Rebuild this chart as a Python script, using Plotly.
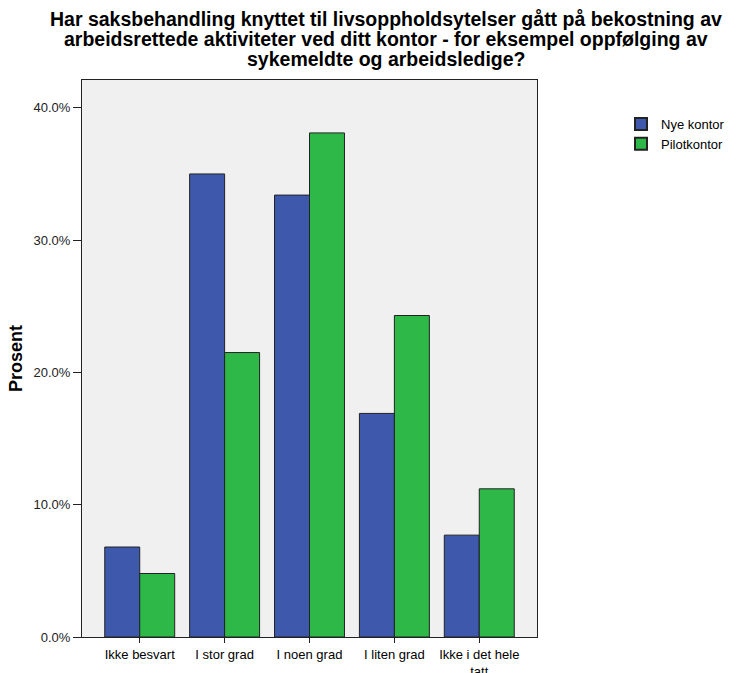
import plotly.graph_objects as go

categories = ["Ikke besvart", "I stor grad", "I noen grad", "I liten grad", "Ikke i det hele<br>tatt"]
nye_kontor = [6.8, 35.0, 33.4, 16.9, 7.7]
pilotkontor = [4.8, 21.5, 38.1, 24.3, 11.2]
y_ticks = [0, 10, 20, 30, 40]
y_tick_labels = ["0.0%", "10.0%", "20.0%", "30.0%", "40.0%"]
title_lines = [
    "Har saksbehandling knyttet til livsoppholdsytelser gått på bekostning av",
    "arbeidsrettede aktiviteter ved ditt kontor - for eksempel oppfølging av",
    "sykemeldte og arbeidsledige?",
]

W, H = 738, 673
L, R, T, B = 82, 201, 80, 36
plot_w = W - L - R
plot_h = H - T - B

fig = go.Figure()
fig.add_trace(go.Bar(x=categories, y=nye_kontor, name="Nye kontor",
                     marker=dict(color="#3E58AC", line=dict(color="#222222", width=1))))
fig.add_trace(go.Bar(x=categories, y=pilotkontor, name="Pilotkontor",
                     marker=dict(color="#2EB848", line=dict(color="#222222", width=1))))

# Title lines (tight line spacing as in the reference)
line_centers = [19, 38.5, 58.5]
for txt, yc in zip(title_lines, line_centers):
    fig.add_annotation(
        text="<b>" + txt + "</b>", showarrow=False,
        xref="paper", yref="paper",
        x=(386 - L) / plot_w, xanchor="center",
        y=(H - B - yc) / plot_h, yanchor="middle",
        borderpad=0,
        font=dict(size=19.5, color="black"),
    )

fig.update_layout(
    width=W, height=H,
    margin=dict(l=L, r=R, t=T, b=B, autoexpand=False),
    paper_bgcolor="white",
    plot_bgcolor="#F0F0F0",
    barmode="group",
    bargap=0.176,
    bargroupgap=0,
    font=dict(family="Liberation Sans, Arial, sans-serif", size=13, color="#222222"),
    showlegend=True,
    legend=dict(x=(621 - L) / plot_w, xanchor="left", y=(H - B - 109) / plot_h, yanchor="top",
                font=dict(size=13, color="black"), bgcolor="rgba(0,0,0,0)",
                tracegroupgap=0, itemsizing="constant"),
    xaxis=dict(
        range=[-0.68, 4.68],
        automargin=False,
        showline=True, linecolor="#222222", linewidth=1, mirror=True,
        ticks="outside", ticklen=5, tickcolor="#222222",
        tickfont=dict(size=13, color="black"),
        showgrid=False,
    ),
    yaxis=dict(
        range=[0, 42.1],
        automargin=False,
        tickvals=y_ticks, ticktext=y_tick_labels,
        showline=True, linecolor="#222222", linewidth=1, mirror=True,
        ticks="outside", ticklen=8, tickcolor="#222222",
        tickfont=dict(size=13, color="#222222"),
        showgrid=False, zeroline=False,
        title=dict(text="<b>Prosent</b>", font=dict(size=18, color="black"), standoff=6),
    ),
)

fig.write_html("out.html")
